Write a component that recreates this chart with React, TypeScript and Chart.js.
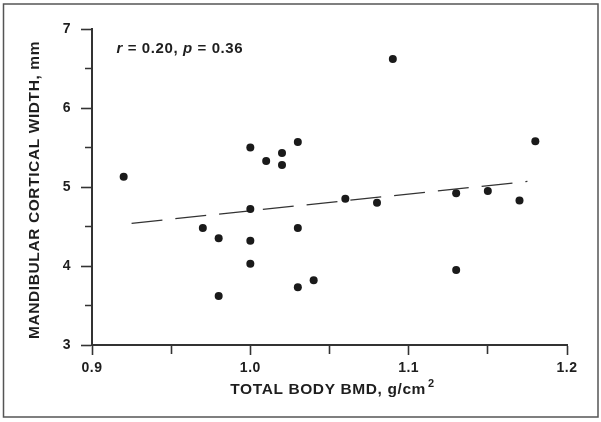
import React, { useEffect, useRef } from "react";
import { Chart, registerables } from "chart.js";

Chart.register(...registerables);

// Total body BMD (g/cm^2) for each subject
const bmdValues = [0.92, 1.09, 1.0, 1.01, 1.02, 1.02, 1.03, 1.18, 1.06, 1.08, 1.13, 1.15, 1.17, 1.0, 0.97, 0.98, 1.0, 1.03, 1.0, 1.13, 1.04, 1.03, 0.98];
// Mandibular cortical width (mm) for each subject
const widthValues = [5.13, 6.62, 5.5, 5.33, 5.43, 5.28, 5.57, 5.58, 4.85, 4.8, 4.92, 4.95, 4.83, 4.72, 4.48, 4.35, 4.32, 4.48, 4.03, 3.95, 3.82, 3.73, 3.62];
// Regression line end points
const fitX = [0.925, 1.175];
const fitY = [4.54, 5.07];
// Axis ranges / ticks
const xRange = [0.9, 1.2];
const yRange = [3, 7];
const xStep = 0.05;
const yStep = 0.5;
const xTitle = "TOTAL BODY BMD, g/cm";
const xTitleSup = "2";
const yTitle = "MANDIBULAR CORTICAL WIDTH, mm";
const annotationParts = [
  { text: "r", italic: true },
  { text: " = 0.20, ", italic: false },
  { text: "p", italic: true },
  { text: " = 0.36", italic: false },
];

const INK = "#1e1e1e";
const FONT = "'Liberation Sans', Arial, Helvetica, sans-serif";

export default function App() {
  const ref = useRef<HTMLCanvasElement | null>(null);

  useEffect(() => {
    const canvas = ref.current;
    if (!canvas) return;

    const spacingPlugin = {
      id: "spacing",
      beforeDraw(chart: any) {
        (chart.ctx as any).letterSpacing = "0.5px";
      },
    };

    const framePlugin = {
      id: "frame",
      afterDraw(chart: any) {
        const ctx = chart.ctx as CanvasRenderingContext2D;
        const xs = chart.scales.x;
        const ys = chart.scales.y;
        ctx.save();
        ctx.strokeStyle = "#555555";
        ctx.lineWidth = 1.5;
        ctx.strokeRect(3.5, 4, 594.5, 413);

        (ctx as any).letterSpacing = "0.6px";
        ctx.fillStyle = INK;
        ctx.textBaseline = "middle";

        // annotation
        let x = xs.getPixelForValue(0.9155);
        const y = ys.getPixelForValue(6.75);
        ctx.textAlign = "left";
        for (const p of annotationParts) {
          ctx.font = `${p.italic ? "italic " : ""}bold 15px ${FONT}`;
          ctx.fillText(p.text, x, y);
          x += ctx.measureText(p.text).width;
        }

        // x-axis title with superscript
        ctx.font = `bold 15.5px ${FONT}`;
        const mainW = ctx.measureText(xTitle).width;
        ctx.font = `bold 11px ${FONT}`;
        const supW = ctx.measureText(xTitleSup).width;
        const cx = (chart.chartArea.left + chart.chartArea.right) / 2 + 3;
        const startX = cx - (mainW + supW + 2) / 2;
        ctx.font = `bold 15.5px ${FONT}`;
        ctx.fillText(xTitle, startX, 390);
        ctx.font = `bold 11px ${FONT}`;
        ctx.fillText(xTitleSup, startX + mainW + 2, 384);

        // y-axis title
        ctx.save();
        ctx.translate(35, (chart.chartArea.top + chart.chartArea.bottom) / 2 + 3);
        ctx.rotate(-Math.PI / 2);
        ctx.textAlign = "center";
        ctx.font = `bold 15.5px ${FONT}`;
        ctx.fillText(yTitle, 0, 0);
        ctx.restore();

        ctx.restore();
      },
    };

    const isMajor = (v: number, step: number) =>
      Math.abs(v / step - Math.round(v / step)) < 1e-6;

    const chart = new Chart(canvas, {
      type: "scatter",
      data: {
        datasets: [
          {
            type: "scatter",
            data: bmdValues.map((x, i) => ({ x, y: widthValues[i] })),
            backgroundColor: "#1a1a1a",
            borderColor: "#1a1a1a",
            borderWidth: 0,
            pointRadius: 4,
          },
          {
            type: "line",
            data: fitX.map((x, i) => ({ x, y: fitY[i] })),
            borderColor: "#333333",
            borderWidth: 1.3,
            borderDash: [31, 13],
            pointRadius: 0,
            fill: false,
          } as any,
        ],
      },
      options: {
        animation: false,
        responsive: false,
        devicePixelRatio: 1,
        layout: { padding: { top: 29, right: 34, left: 0, bottom: 0 } },
        plugins: {
          legend: { display: false },
          tooltip: { enabled: false },
        },
        scales: {
          x: {
            type: "linear",
            min: xRange[0],
            max: xRange[1],
            afterFit(scale: any) {
              scale.height = 77;
            },
            border: { display: true, color: "#333333", width: 2 },
            grid: {
              drawOnChartArea: false,
              drawTicks: true,
              tickLength: 10,
              tickWidth: 1.6,
              tickColor: "#333333",
              tickBorderDash: (ctx: any) =>
                ctx.tick && isMajor(ctx.tick.value, 0.1) ? [] : [8, 100],
            },
            ticks: {
              stepSize: xStep,
              autoSkip: false,
              maxRotation: 0,
              padding: 5,
              color: INK,
              font: { family: FONT, size: 14, weight: "bold" },
              callback: (v: any) => (isMajor(Number(v), 0.1) ? Number(v).toFixed(1) : ""),
            },
            title: { display: false },
          },
          y: {
            type: "linear",
            min: yRange[0],
            max: yRange[1],
            afterFit(scale: any) {
              scale.width = 92;
            },
            border: { display: true, color: "#333333", width: 2 },
            grid: {
              drawOnChartArea: false,
              drawTicks: true,
              tickLength: 11,
              tickWidth: 1.6,
              tickColor: "#333333",
              tickBorderDash: (ctx: any) =>
                ctx.tick && isMajor(ctx.tick.value, 1) ? [] : [0, 4, 100],
            },
            ticks: {
              stepSize: yStep,
              autoSkip: false,
              padding: 10,
              color: INK,
              font: { family: FONT, size: 14, weight: "bold" },
              callback: (v: any) => (isMajor(Number(v), 1) ? String(Math.round(Number(v))) : ""),
            },
            title: { display: false },
          },
        },
      } as any,
      plugins: [spacingPlugin, framePlugin],
    });

    return () => chart.destroy();
  }, []);

  return (
    <div style={{ position: "absolute", left: 0, top: 0, width: 601, height: 422, background: "#fff" }}>
      <canvas ref={ref} width={601} height={422} style={{ display: "block", width: 601, height: 422 }} />
    </div>
  );
}
